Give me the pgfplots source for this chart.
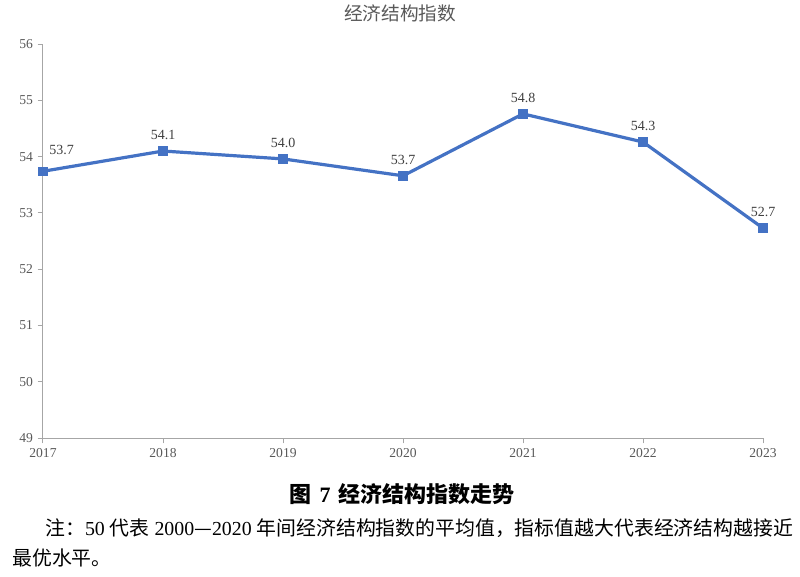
\documentclass[border=0pt]{standalone}
\usepackage{fontspec}
\setmainfont{Liberation Serif}
\newfontfamily\cjk{Noto Sans CJK SC}
\usepackage{pgfplots}
\pgfplotsset{compat=1.18}
\definecolor{lineblue}{HTML}{4472C4}
\definecolor{axisgray}{HTML}{A6A6A6}
\definecolor{ticktext}{HTML}{595959}
\definecolor{labeltext}{HTML}{404040}
\begin{document}
\begin{tikzpicture}
\path (0,0) rectangle (600pt,431.25pt);
\begin{axis}[
  at={(32.25pt,103.5pt)}, anchor=south west,
  width=540pt, height=295.5pt, scale only axis,
  xmin=2017, xmax=2023, ymin=49, ymax=56,
  xtick={2017,2018,2019,2020,2021,2022,2023},
  ytick={49,50,51,52,53,54,55,56},
  axis x line*=bottom, axis y line*=left,
  axis line style={axisgray, line width=0.75pt},
  tick style={axisgray, line width=0.75pt},
  tick align=outside, major tick length=4pt,
  /pgf/number format/assume math mode=true,
  x tick label style={/pgf/number format/1000 sep={}},
  tick label style={font=\fontsize{10.2}{12}\selectfont, text=ticktext},
  clip=false,
]
\addplot[lineblue, line width=2.4pt, mark=square*,
  mark size=3.3pt, mark options={solid, line width=0.4pt, fill=lineblue},
  nodes near coords, point meta=y,
  nodes near coords style={font=\fontsize{10.5}{12}\selectfont, text=labeltext,
    anchor=south, yshift=5pt,
    /pgf/number format/fixed, /pgf/number format/fixed zerofill,
    /pgf/number format/precision=1},
  coordinate style/.condition={\coordindex==0}{xshift=14pt, yshift=4pt},
] coordinates {
  (2017,53.74) (2018,54.10) (2019,53.96) (2020,53.66)
  (2021,54.76) (2022,54.26) (2023,52.73)
};
\end{axis}
\node[text=ticktext, font=\cjk\fontsize{14}{16}\selectfont] at (300pt,422.25pt) {经济结构指数};
\node[font=\cjk\bfseries\fontsize{16.5}{18}\selectfont] at (301.5pt,61.5pt) {图\hspace{0.35em}{\rmfamily\bfseries 7}\hspace{0.35em}经济结构指数走势};
\node[anchor=west, inner sep=0pt, font=\fontsize{14.9}{16}\selectfont] at (33.75pt,36pt)
  {{\cjk 注：}50 {\cjk 代表} 2000{\cjk —}2020 {\cjk 年间经济结构指数的平均值，指标值越大代表经济结构越接近}};
\node[anchor=west, inner sep=0pt, font=\cjk\fontsize{14.9}{16}\selectfont] at (9pt,13.5pt) {最优水平。};
\end{tikzpicture}
\end{document}
